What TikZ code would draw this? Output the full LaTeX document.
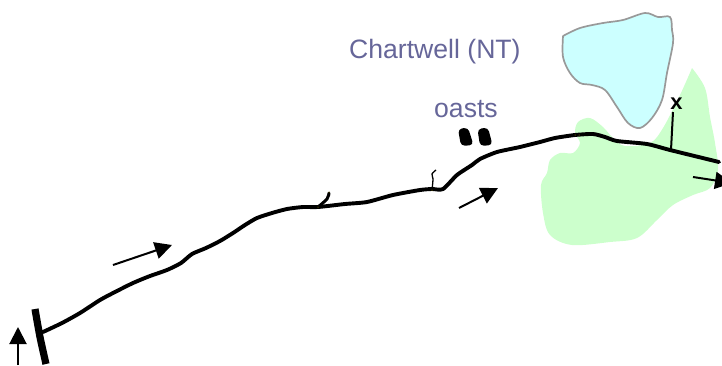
\documentclass[tikz,border=0pt]{standalone}
\usepackage{fontspec}
\setmainfont{Liberation Sans}
\usetikzlibrary{arrows.meta}
\definecolor{lakefill}{HTML}{CCFFFF}
\definecolor{lakeedge}{HTML}{999999}
\definecolor{parkfill}{HTML}{CCFFCC}
\definecolor{labelblue}{HTML}{666699}
\definecolor{tick}{HTML}{B0A000}
\tikzset{
  road/.style={line width=3.9bp,line cap=round,line join=round},
  spur/.style={line width=3bp,line cap=round},
  flow/.style={line width=2bp,-{Triangle[length=17bp,width=17bp]}},
  maplabel/.style={text=labelblue,font=\fontsize{26.6bp}{30bp}\selectfont,inner sep=0pt,anchor=base west},
  tickdot/.style={fill=tick,inner sep=0pt,minimum size=1bp,circle},
}
\begin{document}
\begin{tikzpicture}[x=1bp,y=-1bp]
\useasboundingbox (0,0) rectangle (722,365);
% park
\fill[parkfill] plot[smooth,tension=0.55] coordinates {(692,68) (705,88) (710,117) (715,143) (718,170) (710,188) (693,195) (673,205) (657,220) (637,238) (610,242) (572,245) (550,235) (543,213) (541,185) (547,173) (550,160) (560,153) (573,153) (580,143) (575,133) (578,122) (590,118) (603,127) (613,138) (625,146) (650,143) (663,128) (680,95) (692,68)};
% lake
\draw[lakeedge,fill=lakefill,line width=1.7bp] plot[smooth,tension=0.55] coordinates {(563,36) (580,28) (603,23) (623,20) (645,13) (658,17) (670,17) (672,30) (673,43) (667,73) (662,100) (652,118) (640,128) (628,123) (617,107) (605,90) (592,85) (580,83) (570,73) (563,57) (563,36)};
% road
\draw[road] plot[smooth,tension=0.4] coordinates {(43,332) (62,323) (80,313) (100,300) (115,292) (133,283) (150,276) (167,270) (181,263) (192,254) (206,248) (220,241) (233,233) (245,225) (257,218) (272,213) (287,209) (303,207) (318,207) (345,204) (367,202) (393,195) (420,190) (432,189) (443,189) (457,175) (472,165) (480,159) (497,152) (520,147) (540,142) (555,138) (575,135) (593,134) (605,137) (617,141) (647,144) (670,150) (719,162)};
% side turnings
\draw[spur] plot[smooth] coordinates {(318,207) (327,199) (329,193)};
\draw[line width=1.3bp] plot[smooth] coordinates {(432,190) (433,179) (432,174) (436,170)};
% end bar
\draw[line width=7.2bp] plot[smooth] coordinates {(35,309) (40,337) (46,364)};
% oasts
\fill[rounded corners=4bp] (458,129) -- (468,127.5) -- (473.5,145) -- (461,146) -- cycle;
\fill[rounded corners=4bp] (477.5,129) -- (488,127.5) -- (492.5,145) -- (480,146) -- cycle;
% tiny marks on the road
\node[tickdot] (t1) at (318,207) {};
\node[tickdot] (t2) at (329,192) {};
\node[tickdot] (t3) at (432,190) {};
\node[tickdot] (t4) at (575,135) {};
\node[tickdot] (t5) at (579,135) {};
% flow arrows
\coordinate (a1s) at (113,265); \coordinate (a1e) at (172,245);
\coordinate (a2s) at (18,365);  \coordinate (a2e) at (18,327);
\coordinate (a3s) at (459,208); \coordinate (a3e) at (498,188);
\coordinate (a4s) at (693,177); \coordinate (a4e) at (732,183);
\draw[flow] (a1s) -- (a1e);
\draw[flow] (a2s) -- (a2e);
\draw[flow] (a3s) -- (a3e);
\draw[flow] (a4s) -- (a4e);
% x marker
\node[font=\bfseries\fontsize{22bp}{24bp}\selectfont,inner sep=0pt] (xmark) at (676.5,104) {x};
\coordinate (xfoot) at (671,150);
\draw[line width=2bp] (673,112) -- (xfoot);
% labels
\node[maplabel] (chartwell) at (349,58) {Chartwell (NT)};
\node[maplabel] (oasts) at (434,117) {oasts};
\end{tikzpicture}
\end{document}
